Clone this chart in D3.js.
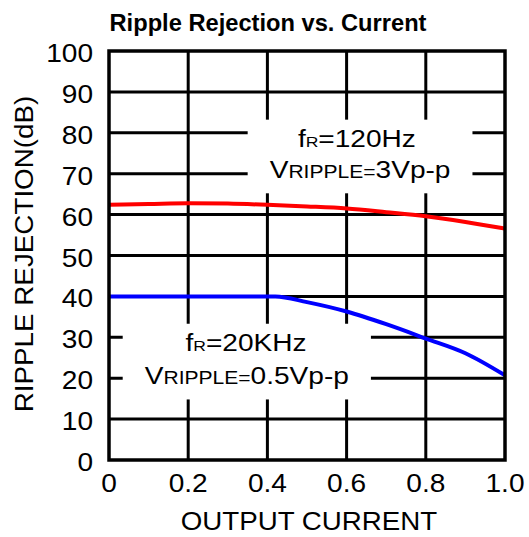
<!DOCTYPE html>
<html><head><meta charset="utf-8">
<script src="https://cdn.jsdelivr.net/npm/d3@7"></script>
<style>body{margin:0;background:#fff}svg{display:block}</style>
</head><body>
<script>
// ---- data ----
const xTicks = [0, 0.2, 0.4, 0.6, 0.8, 1.0];
const xTickLabels = ["0", "0.2", "0.4", "0.6", "0.8", "1.0"];
const yTicks = [0, 10, 20, 30, 40, 50, 60, 70, 80, 90, 100];
const yTickLabels = ["0", "10", "20", "30", "40", "50", "60", "70", "80", "90", "100"];
const redX = [0, 0.1, 0.2, 0.3, 0.4, 0.5, 0.6, 0.7, 0.8, 0.9, 1.0];
const redY = [62.4, 62.6, 62.8, 62.7, 62.4, 62.0, 61.5, 60.6, 59.6, 58.2, 56.6];
const blueX = [0, 0.1, 0.2, 0.3, 0.42, 0.5, 0.6, 0.7, 0.8, 0.9, 1.0];
const blueY = [40, 40, 40, 40, 40, 38.6, 36.3, 33.2, 29.7, 26.1, 20.7];
const title = "Ripple Rejection vs. Current";
const xTitle = "OUTPUT CURRENT";
const yTitle = "RIPPLE REJECTION(dB)";
const upperNote = [
  [["f","big"],["R","sub1"],["=120Hz","big"]],
  [["V","big"],["RIPPLE=","sub2"],["3Vp-p","big"]]
];
const lowerNote = [
  [["f","big"],["R","sub1"],["=20KHz","big"]],
  [["V","big"],["RIPPLE=","sub2"],["0.5Vp-p","big"]]
];

// ---- layout ----
const W = 529, H = 537;
const FONT = "'Liberation Sans', Arial, Helvetica, sans-serif";
const x = d3.scaleLinear().domain([0, 1]).range([109, 505]);
const y = d3.scaleLinear().domain([0, 100]).range([460, 51]);

const svg = d3.select("body").append("svg").attr("width", W).attr("height", H);
svg.append("rect").attr("width", W).attr("height", H).attr("fill", "#fff");

// grid
const grid = svg.append("g").attr("stroke", "#000").attr("stroke-width", 3);
grid.selectAll(".v").data(xTicks.slice(1, -1)).join("line")
  .attr("x1", d => x(d)).attr("x2", d => x(d)).attr("y1", y(0)).attr("y2", y(100));
grid.selectAll(".h").data(yTicks.slice(1, -1)).join("line")
  .attr("x1", x(0)).attr("x2", x(1)).attr("y1", d => y(d)).attr("y2", d => y(d));

// annotations
const sizes = {big: 24, sub1: 15, sub2: 18};
function note(lines, cx, lineVals, sx) {
  const g = svg.append("g");
  lines.forEach((segs, i) => {
    const t = g.append("text")
      .attr("transform", `translate(${x(cx[i])},${y(lineVals[i])}) scale(${sx},1)`)
      .attr("text-anchor", "middle").attr("font-family", FONT).attr("fill", "#000");
    segs.forEach(([txt, s]) => t.append("tspan").attr("font-size", sizes[s]).text(txt));
  });
  const b = g.node().getBBox();
  svg.insert("rect", () => g.node())
    .attr("x", b.x - 22).attr("y", b.y - 5)
    .attr("width", b.width + 44).attr("height", b.height + 15)
    .attr("fill", "#fff");
}
note(upperNote, [0.626, 0.634], [76.6, 69.0], 1.17);
note(lowerNote, [0.346, 0.348], [26.7, 18.6], 1.17);

// curves
const line = d3.line().x(d => x(d[0])).y(d => y(d[1])).curve(d3.curveMonotoneX);
svg.append("path").datum(redX.map((v, i) => [v, redY[i]]))
  .attr("d", line).attr("fill", "none").attr("stroke", "#ff0000").attr("stroke-width", 4);
svg.append("path").datum(blueX.map((v, i) => [v, blueY[i]]))
  .attr("d", line).attr("fill", "none").attr("stroke", "#0000ff").attr("stroke-width", 4);

// frame
svg.append("rect").attr("x", x(0)).attr("y", y(100))
  .attr("width", x(1) - x(0)).attr("height", y(0) - y(100))
  .attr("fill", "none").attr("stroke", "#000").attr("stroke-width", 3.5);

// tick labels
svg.append("g").selectAll("text").data(yTicks).join("text")
  .attr("transform", d => `translate(${x(0) - 16},${y(d) + 11}) scale(1.08,1)`)
  .attr("text-anchor", "end").attr("font-family", FONT).attr("font-size", 26)
  .text((d, i) => yTickLabels[i]);
svg.append("g").selectAll("text").data(xTicks).join("text")
  .attr("transform", d => `translate(${x(d)},${y(0) + 32}) scale(1.08,1)`)
  .attr("text-anchor", "middle").attr("font-family", FONT).attr("font-size", 26)
  .text((d, i) => xTickLabels[i]);

// titles
svg.append("text").attr("transform", `translate(268,31) scale(1.03,1)`)
  .attr("text-anchor", "middle").attr("font-family", FONT).attr("font-weight", "bold")
  .attr("font-size", 23).text(title);
svg.append("text").attr("transform", `translate(309,530) scale(1.066,1)`)
  .attr("text-anchor", "middle").attr("font-family", FONT).attr("font-size", 26).text(xTitle);
svg.append("text").attr("transform", `translate(33,254) rotate(-90) scale(1.07,1)`)
  .attr("text-anchor", "middle").attr("font-family", FONT).attr("font-size", 26).text(yTitle);
</script>
</body></html>
